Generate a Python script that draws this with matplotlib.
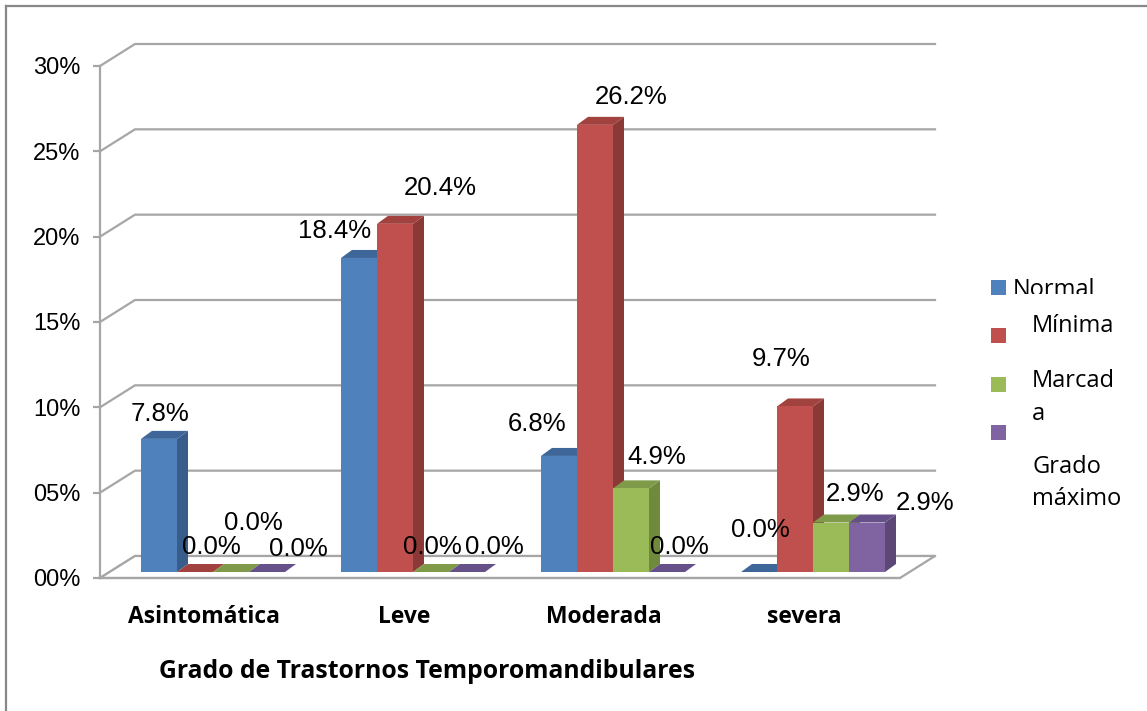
import numpy as np
import matplotlib
matplotlib.use("Agg")
import matplotlib.pyplot as plt
from matplotlib.patches import Polygon, Rectangle
from matplotlib.lines import Line2D

# data (percent)
categories = ["Asintomática", "Leve", "Moderada", "severa"]
series = ["Normal", "Mínima", "Marcada", "Grado máximo"]
normal = [7.8, 18.4, 6.8, 0.0]
minima = [0.0, 20.4, 26.2, 9.7]
marcada = [0.0, 0.0, 4.9, 2.9]
grado_maximo = [0.0, 0.0, 0.0, 2.9]
yticks = [0, 5, 10, 15, 20, 25, 30]
ytick_labels = ["00%", "05%", "10%", "15%", "20%", "25%", "30%"]
xlabel = "Grado de Trastornos Temporomandibulares"

values = [normal, minima, marcada, grado_maximo]

front = ["#4F81BD", "#C0504D", "#9BBB59", "#8064A2"]
side = ["#385D8A", "#8A3936", "#6F8A3C", "#5C4776"]
top = ["#3E6698", "#A2423F", "#7F9A48", "#66508A"]
grid_col = "#A6A6A6"

# label offsets from bar front-top centre, in pixels (dx right, dy up)
lab_off = [
    [(1, 25), (-24, 27), (-22, 32), (1, 42)],
    [(16, 25), (45, 36), (36, 28), (-14, 47)],
    [(22, 49), (1, 25), (26, 31), (24, 29)],
    [(31, 23), (27, 25), (12, 25), (58, 20)],
]

W, H = 1147, 711
fig = plt.figure(figsize=(W / 100, H / 100), dpi=100)
ax = fig.add_axes([100 / W, (H - 578) / H, 800 / W, 512 / H])
ax.set_xlim(0, 4)
ax.set_ylim(0, 30)

pxx = 800 / 4.0     # px per category
pxy = 512 / 30.0    # px per percent

# wall depth and bar depth, in data units
dxw, dyw = 35 / pxx, 22 / pxy
dxb, dyb = 11 / pxx, 8 / pxy
base = 6 / pxy
bw = 36 / pxx

# back wall gridlines + left wall
for v in yticks:
    ax.add_line(Line2D([0, dxw, 4 + dxw], [v, v + dyw, v + dyw],
                       color=grid_col, lw=1.6, zorder=1, clip_on=False))
# floor
ax.add_patch(Polygon([(0, 0), (dxw, dyw), (4 + dxw, dyw), (4, 0)], closed=True,
                     facecolor="white", edgecolor=grid_col, lw=1.6, zorder=1.5,
                     clip_on=False))

z = 2
for i in range(len(categories)):
    for j in range(len(series)):
        v = values[j][i]
        x0 = i + (41 + 36 * j) / pxx
        x1 = x0 + bw
        y0 = base
        y1 = base + v
        ax.add_patch(Polygon([(x1, y0), (x1 + dxb, y0 + dyb), (x1 + dxb, y1 + dyb), (x1, y1)],
                             closed=True, facecolor=side[j], edgecolor="none",
                             zorder=z, clip_on=False))
        ax.add_patch(Polygon([(x0, y1), (x0 + dxb, y1 + dyb), (x1 + dxb, y1 + dyb), (x1, y1)],
                             closed=True, facecolor=top[j], edgecolor="none",
                             zorder=z, clip_on=False))
        if v > 0:
            ax.bar(x0, v, width=bw, bottom=y0, align="edge", color=front[j],
                   edgecolor="none", zorder=z + 0.5, clip_on=False)
        z += 1

# value labels
for j in range(len(series)):
    for i in range(len(categories)):
        v = values[j][i]
        cx = i + (59 + 36 * j) / pxx
        dx, dy = lab_off[j][i]
        ax.text(cx + dx / pxx, base + v + dy / pxy, f"{v:.1f}%",
                ha="center", va="center", fontsize=18.5, family="Liberation Sans",
                color="black", zorder=50, clip_on=False)

# axis
for s in ["top", "right", "bottom"]:
    ax.spines[s].set_visible(False)
ax.spines["left"].set_color(grid_col)
ax.spines["left"].set_linewidth(1.6)
ax.add_line(Line2D([0, 4], [0, 0], color=grid_col, lw=1.6, zorder=1.6, clip_on=False))
ax.set_yticks(yticks)
ax.set_yticklabels(ytick_labels, family="Liberation Sans", fontsize=17)
ax.tick_params(axis="y", length=5, width=1.6, color=grid_col, pad=9)
ax.set_xticks([])
ax.patch.set_visible(False)

# category labels
for i, c in enumerate(categories):
    ax.text(i + 0.52, -39 / pxy, c, ha="center", va="center", fontsize=16.5,
            family="Open Sans", fontweight="bold", clip_on=False)

fig.text(427 / W, 1 - 672 / H, xlabel, ha="center", va="center", fontsize=17.8,
         family="Open Sans", fontweight="bold")

# legend
sq = [(991, 280), (991, 328), (991, 377), (991, 425)]
for j, (x, y) in enumerate(sq):
    fig.patches.append(Rectangle((x / W, 1 - (y + 15) / H), 15 / W, 15 / H,
                                 transform=fig.transFigure, facecolor=front[j],
                                 edgecolor="none"))
leg_lines = [("Normal", 1013, 290), ("Mínima", 1032, 326), ("Marcad", 1032, 381),
             ("a", 1032, 414), ("Grado", 1032, 467), ("máximo", 1032, 499)]
for k, (t, x, y) in enumerate(leg_lines):
    txt = fig.text(x / W, 1 - y / H, t, ha="left", va="center", fontsize=17,
                   family="Open Sans")
    if k == 0:
        clip = Rectangle((0.8, 1 - 294 / H), 0.2, 30 / H, transform=fig.transFigure)
        txt.set_clip_path(clip)

# outer border
fig.add_artist(Line2D([6 / W, 6 / W], [0, 1 - 6 / H], color="#888888", lw=1.6,
                      transform=fig.transFigure))
fig.add_artist(Line2D([6 / W, 1], [1 - 6 / H, 1 - 6 / H], color="#888888", lw=1.6,
                      transform=fig.transFigure))

fig.savefig("out.png", dpi=100)
